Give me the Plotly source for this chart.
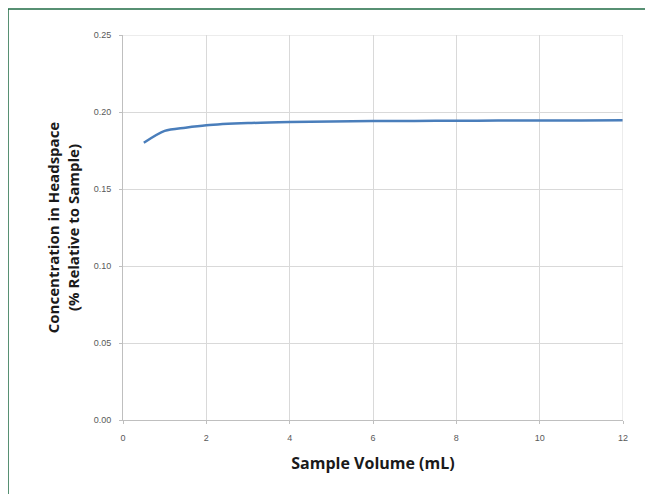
import plotly.graph_objects as go

volume = [0.5, 1, 1.5, 2, 3, 4, 5, 6, 7, 8, 9, 10, 11, 12]
conc = [0.180, 0.1877, 0.1898, 0.1914, 0.1928, 0.1935, 0.1939, 0.1941, 0.1942, 0.1943, 0.1944, 0.19447, 0.19453, 0.1946]
x_ticks = [0, 2, 4, 6, 8, 10, 12]
y_ticks = [0.0, 0.05, 0.10, 0.15, 0.20, 0.25]

fig = go.Figure()
fig.add_trace(go.Scatter(x=volume, y=conc, mode="lines", line=dict(color="#4a7ebb", width=2.5, shape="spline", smoothing=0.8), showlegend=False))

grid = "#d9d9d9"
tickfont = dict(family="Liberation Sans, Arial, sans-serif", size=9, color="#595959")
xtitlefont = dict(family="Open Sans, Liberation Sans, sans-serif", size=16, color="#1a1a1a")
ytitlefont = dict(family="Open Sans, Liberation Sans, sans-serif", size=15, color="#1a1a1a")

fig.update_xaxes(range=[0, 12], tickvals=x_ticks, ticktext=[str(v) for v in x_ticks], showgrid=True, gridcolor=grid, gridwidth=1,
                 showline=True, linecolor="#bfbfbf", linewidth=1, ticks="outside", ticklen=3, tickcolor="#bfbfbf",
                 tickfont=tickfont, zeroline=False, mirror=False, ticklabelstandoff=6,
                 title=dict(text="<b>Sample Volume (mL)</b>", font=xtitlefont, standoff=16))
fig.update_yaxes(range=[0, 0.25], tickvals=y_ticks, ticktext=["%.2f" % v for v in y_ticks], showgrid=True, gridcolor=grid, gridwidth=1,
                 showline=True, linecolor="#bfbfbf", linewidth=1, ticks="outside", ticklen=3, tickcolor="#bfbfbf",
                 tickfont=tickfont, zeroline=False, ticklabelstandoff=6,
                 title=dict(text="<b>Concentration in Headspace<br>(% Relative to Sample)</b>", font=ytitlefont, standoff=10))

fig.update_layout(
    width=653, height=494,
    margin=dict(l=115, r=38, t=27, b=82, autoexpand=False),
    paper_bgcolor="white", plot_bgcolor="white",
    shapes=[
        dict(type="line", xref="paper", yref="paper", x0=-0.23, x1=1.08, y0=1.0675, y1=1.0675, line=dict(color="#1f6b45", width=1.5)),
        dict(type="line", xref="paper", yref="paper", x0=-0.23, x1=-0.23, y0=1.0675, y1=-0.22, line=dict(color="#1f6b45", width=1.5)),
        dict(type="line", xref="x", yref="y", x0=12, x1=12, y0=0, y1=0.25, line=dict(color=grid, width=1)),
        dict(type="line", xref="x", yref="y", x0=0, x1=12, y0=0.25, y1=0.25, line=dict(color=grid, width=1)),
    ],
)

fig.write_html("out.html")
